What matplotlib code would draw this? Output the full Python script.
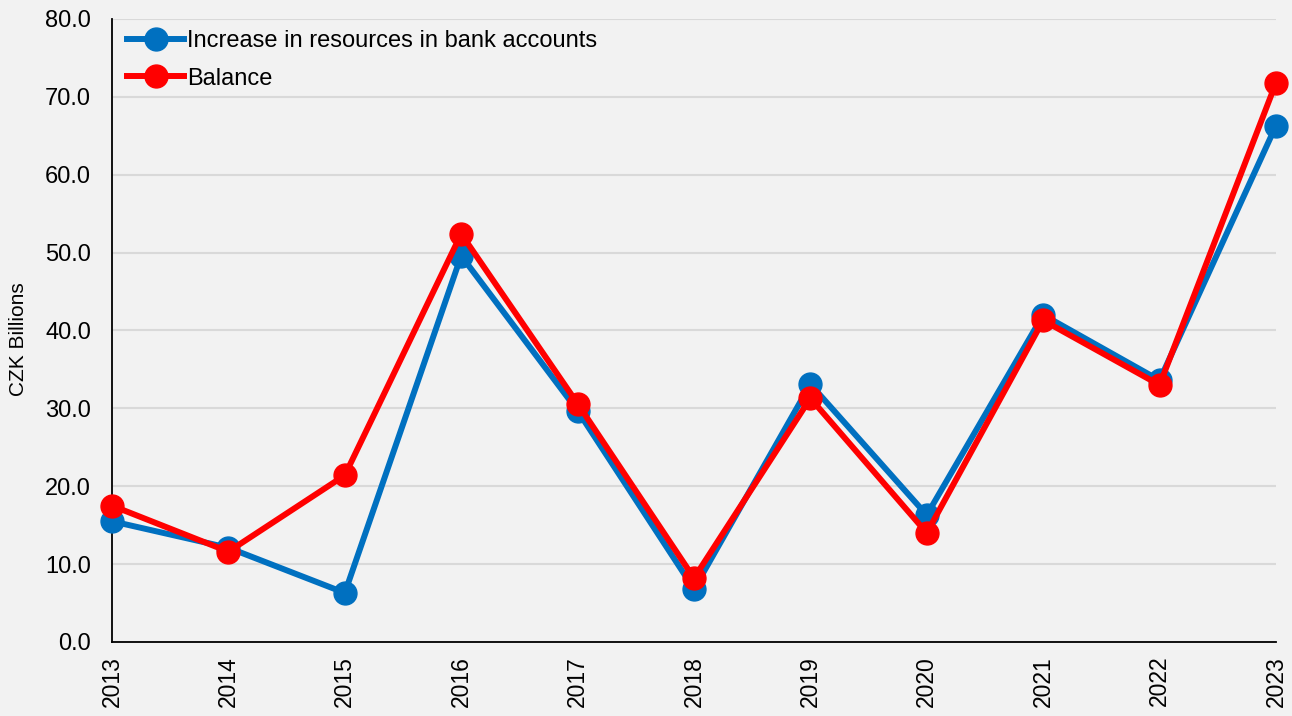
import matplotlib.pyplot as plt

plt.rcParams['font.family'] = ['Liberation Sans', 'DejaVu Sans']

years = [2013, 2014, 2015, 2016, 2017, 2018, 2019, 2020, 2021, 2022, 2023]
increase = [15.5, 12.1, 6.3, 49.6, 29.7, 6.8, 33.1, 16.3, 42.0, 33.6, 66.3]
balance = [17.5, 11.6, 21.4, 52.4, 30.6, 8.2, 31.3, 14.0, 41.3, 33.0, 71.8]

bg = '#f2f2f2'
fig = plt.figure(figsize=(12.92, 7.16), dpi=100, facecolor=bg)
ax = fig.add_axes([0.0867, 0.1034, 0.9009, 0.8701], facecolor=bg)

ax.plot(years, increase, color='#0070c0', lw=4.3, marker='o', ms=16.5,
        label='Increase in resources in bank accounts', clip_on=False, zorder=3)
ax.plot(years, balance, color='#ff0000', lw=4.3, marker='o', ms=16.5,
        label='Balance', clip_on=False, zorder=4)

ax.set_xlim(2013, 2023)
ax.set_ylim(0, 80)
ax.set_xticks(years)
ax.set_xticklabels([str(y) for y in years], rotation=90, fontsize=16.5)
ax.set_yticks(range(0, 81, 10))
ax.set_yticklabels([f'{v:.1f}' for v in range(0, 81, 10)], fontsize=17)
ax.set_ylabel('CZK Billions', fontsize=15)
ax.yaxis.set_label_coords(-0.072, 0.486)

ax.grid(axis='y', color='#d9d9d9', lw=1.5)
ax.set_axisbelow(True)
for s in ['top', 'right']:
    ax.spines[s].set_visible(False)
for s in ['left', 'bottom']:
    ax.spines[s].set_linewidth(1.3)
ax.tick_params(axis='y', length=0, pad=15)
ax.tick_params(axis='x', length=0, pad=10)

leg = ax.legend(loc='upper left', frameon=False, fontsize=17, handlelength=2.4,
                handletextpad=0.15, borderaxespad=0.0, borderpad=0.4,
                labelspacing=0.65, bbox_to_anchor=(0.005, 0.997))
leg.set_zorder(5)

fig.savefig('out.png', dpi=100, facecolor=bg)
